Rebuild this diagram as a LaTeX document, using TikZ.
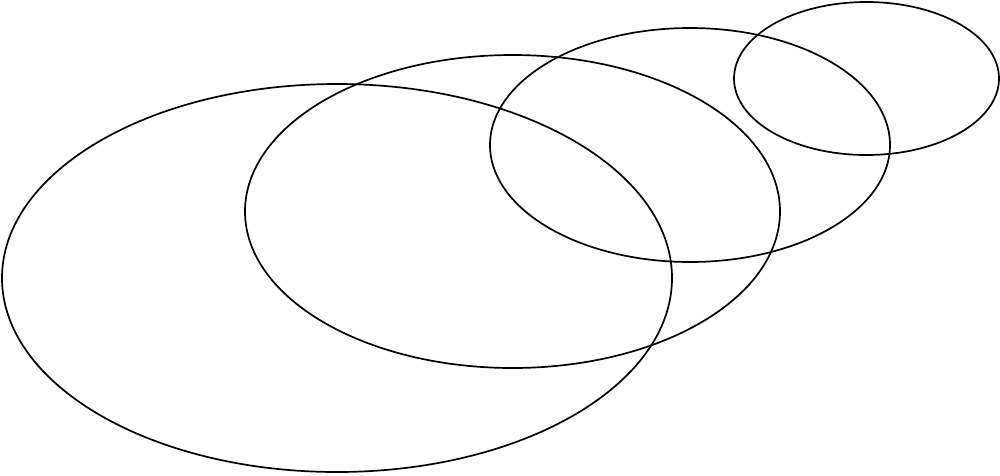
\documentclass[tikz,border=0pt]{standalone}
\usepackage{tikz}

\begin{document}
\begin{tikzpicture}[
        x=1pt, y=-1pt,
        ring/.style={
          draw=black, line width=1.7pt
        },
      ]
        % frame
        \useasboundingbox (0,0) rectangle (1000,475);

        % ellipses, big to small
        \draw [ring] (337,278) ellipse [x radius=335, y radius=194];
        \draw [ring] (512.5,211.5) ellipse [x radius=267.5, y radius=156.5];
        \draw [ring] (690,145) ellipse [x radius=200, y radius=117];
        \draw [ring] (866.5,78.5) ellipse [x radius=132.5, y radius=76.5];

      \end{tikzpicture}
\end{document}
